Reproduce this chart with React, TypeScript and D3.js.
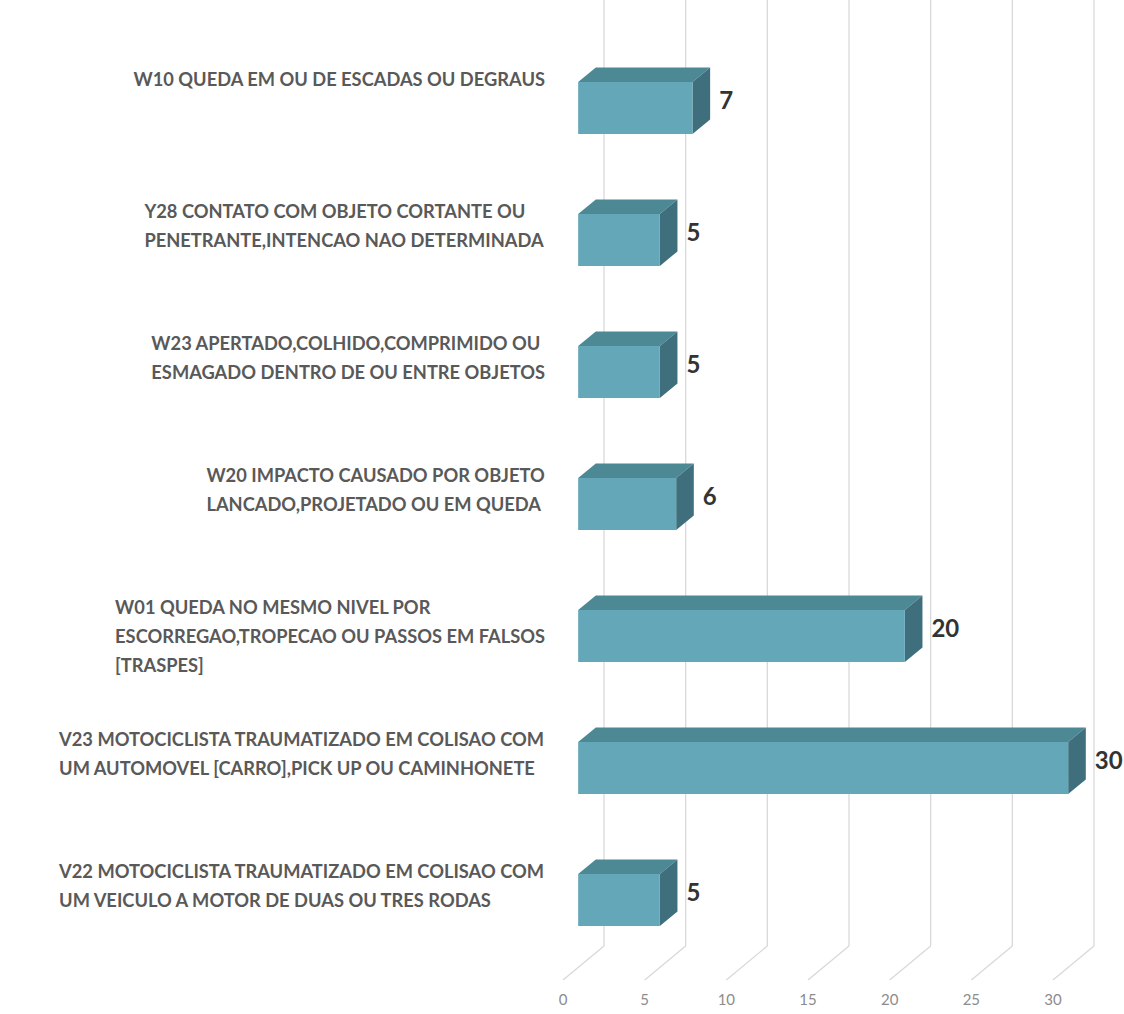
import * as d3 from 'd3';
import React, { useEffect, useRef } from 'react';

const categories = ['W10', 'Y28', 'W23', 'W20', 'W01', 'V23', 'V22'];
const labelLines: string[][] = [
  ['W10 QUEDA EM OU DE ESCADAS OU DEGRAUS'],
  ['Y28 CONTATO COM OBJETO CORTANTE OU', 'PENETRANTE,INTENCAO NAO DETERMINADA'],
  ['W23 APERTADO,COLHIDO,COMPRIMIDO OU', 'ESMAGADO DENTRO DE OU ENTRE OBJETOS'],
  ['W20 IMPACTO CAUSADO POR OBJETO', 'LANCADO,PROJETADO OU EM QUEDA'],
  ['W01 QUEDA NO MESMO NIVEL POR', 'ESCORREGAO,TROPECAO OU PASSOS EM FALSOS', '[TRASPES]'],
  ['V23 MOTOCICLISTA TRAUMATIZADO EM COLISAO COM', 'UM AUTOMOVEL [CARRO],PICK UP OU CAMINHONETE'],
  ['V22 MOTOCICLISTA TRAUMATIZADO EM COLISAO COM', 'UM VEICULO A MOTOR DE DUAS OU TRES RODAS'],
];
const values = [7, 5, 5, 6, 20, 30, 5];
const ticks = [0, 5, 10, 15, 20, 25, 30];

const App: React.FC = () => {
  const ref = useRef<SVGSVGElement>(null);

  useEffect(() => {
    document.body.style.margin = '0';
    if (!ref.current) return;
    const width = 1124;
    const height = 1014;
    const svg = d3.select(ref.current).attr('width', width).attr('height', height);
    svg.selectAll('*').remove();

    // fake 3d projection: depth 0..1 shifts right/up
    const DX = 41;
    const DY = -34;
    const floorY = 980;
    const d1 = 0.37;
    const d2 = 0.8;

    const x = d3.scaleLinear().domain([0, 30]).range([563, 1053]);
    const y = d3.scaleBand<string>()
      .domain(categories)
      .range([42, 966])
      .paddingInner(0.606)
      .paddingOuter(0.303);

    // back wall gridlines + floor lines
    const grid = svg.append('g').attr('stroke', '#d9d9d9').attr('stroke-width', 1.3).attr('fill', 'none');
    ticks.forEach(t => {
      grid.append('line')
        .attr('x1', x(t) + DX).attr('x2', x(t) + DX)
        .attr('y1', 0).attr('y2', floorY + DY);
      grid.append('line')
        .attr('x1', x(t) + DX).attr('y1', floorY + DY)
        .attr('x2', x(t)).attr('y2', floorY);
    });

    svg.append('g').selectAll('text')
      .data(ticks)
      .enter()
      .append('text')
      .attr('x', d => x(d))
      .attr('y', 1005)
      .attr('text-anchor', 'middle')
      .attr('font-family', 'Lato, sans-serif')
      .attr('font-size', 15)
      .attr('fill', '#8c8c8c')
      .text(d => d);

    const ddx = DX * (d2 - d1);
    const ddy = DY * (d2 - d1);
    const bars = svg.append('g');
    categories.forEach((c, i) => {
      const x0 = x(0) + DX * d1;
      const x1 = x(values[i]) + DX * d1;
      const yt = y(c)!;
      const yb = yt + y.bandwidth();
      const g = bars.append('g');
      g.append('polygon')
        .attr('points', [[x0, yt], [x1, yt], [x1 + ddx, yt + ddy], [x0 + ddx, yt + ddy]].map(p => p.join(',')).join(' '))
        .attr('fill', '#4d8895');
      g.append('polygon')
        .attr('points', [[x1, yt], [x1 + ddx, yt + ddy], [x1 + ddx, yb + ddy], [x1, yb]].map(p => p.join(',')).join(' '))
        .attr('fill', '#3f6f7d');
      g.append('rect')
        .attr('x', x0).attr('y', yt)
        .attr('width', x1 - x0).attr('height', yb - yt)
        .attr('fill', '#63a7b9');
      g.append('text')
        .attr('x', x1 + ddx + 9)
        .attr('y', (yt + yb) / 2 + ddy / 2)
        .attr('dy', '0.35em')
        .attr('font-family', 'Lato, sans-serif')
        .attr('font-weight', 'bold')
        .attr('font-size', 24)
        .attr('fill', '#333')
        .text(values[i]);
    });

    // category labels: left-aligned block, right edge at 545
    const labels = svg.append('g');
    categories.forEach((c, i) => {
      const cy = y(c)! + y.bandwidth() / 2;
      const g = labels.append('g');
      const txt = g.append('text')
        .attr('font-family', 'Lato, sans-serif')
        .attr('font-weight', 'bold')
        .attr('font-size', 18.3)
        .attr('fill', '#595959');
      labelLines[i].forEach((line, k) => {
        txt.append('tspan')
          .attr('x', 0)
          .attr('y', cy - 28 + k * 29)
          .attr('dy', '0.35em')
          .text(line);
      });
      const w = (txt.node() as SVGTextElement).getBBox().width;
      g.attr('transform', `translate(${545 - w},0)`);
    });
  }, []);

  return <svg ref={ref} style={{ display: 'block' }}></svg>;
};

export default App;
